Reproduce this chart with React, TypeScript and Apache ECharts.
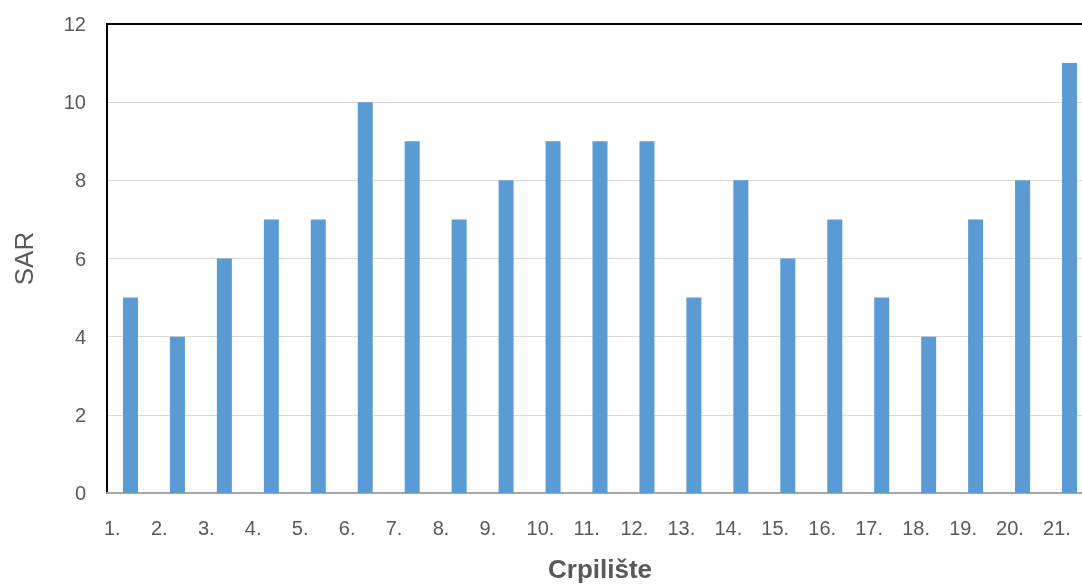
import React, { useEffect, useRef } from "react";
import * as echarts from "echarts";

const categories = ["1.", "2.", "3.", "4.", "5.", "6.", "7.", "8.", "9.", "10.", "11.", "12.", "13.", "14.", "15.", "16.", "17.", "18.", "19.", "20.", "21."];
const sarValues = [5, 4, 6, 7, 7, 10, 9, 7, 8, 9, 9, 9, 5, 8, 6, 7, 5, 4, 7, 8, 11];
const yTicks = { min: 0, max: 12, interval: 2 };

export default function App() {
  const ref = useRef<HTMLDivElement>(null);
  useEffect(() => {
    document.body.style.margin = "0";
    document.body.style.overflow = "hidden";
    document.documentElement.style.overflow = "hidden";
    if (!ref.current) return;
    const chart = echarts.init(ref.current, undefined, { renderer: "svg" });
    const font = "Liberation Sans, Arial, sans-serif";
    chart.setOption({
      animation: false,
      grid: {
        left: 107,
        top: 24,
        width: 986,
        height: 476,
        show: true,
        borderColor: "#000",
        borderWidth: 2,
        backgroundColor: "#fff",
      },
      xAxis: [
        {
          type: "category",
          data: categories,
          name: "Crpilište",
          nameLocation: "middle",
          nameGap: 63,
          nameTextStyle: { fontSize: 26, fontWeight: "bold", color: "#595959", fontFamily: font },
          axisLine: { show: true, lineStyle: { color: "#A6A6A6", width: 2 } },
          axisTick: { show: false },
          axisLabel: { show: false },
        },
        {
          type: "category",
          position: "bottom",
          boundaryGap: false,
          data: [...categories, ""],
          axisLine: { show: false },
          axisTick: { show: false },
          axisLabel: {
            interval: 0,
            align: "left",
            margin: 25,
            fontSize: 20,
            color: "#595959",
            fontFamily: font,
            padding: [0, 0, 0, -3],
          },
        },
      ],
      yAxis: {
        type: "value",
        min: yTicks.min,
        max: yTicks.max,
        interval: yTicks.interval,
        name: "SAR",
        nameLocation: "middle",
        nameGap: 70,
        nameTextStyle: { fontSize: 26, color: "#595959", fontFamily: font },
        axisLine: { show: true, lineStyle: { color: "#000", width: 2 } },
        axisTick: { show: false },
        axisLabel: { margin: 21, fontSize: 20, color: "#595959", fontFamily: font },
        splitLine: { show: true, showMaxLine: false, showMinLine: false, lineStyle: { color: "#D9D9D9", width: 1 } },
      },
      series: [
        {
          type: "bar",
          data: sarValues,
          barWidth: 15,
          itemStyle: { color: "#5B9BD5" },
        },
      ],
    });
    return () => chart.dispose();
  }, []);
  return (
    <div style={{ position: "fixed", left: 0, top: 0, width: 1082, height: 587, overflow: "hidden" }}>
      <div ref={ref} style={{ width: 1110, height: 587 }} />
    </div>
  );
}
